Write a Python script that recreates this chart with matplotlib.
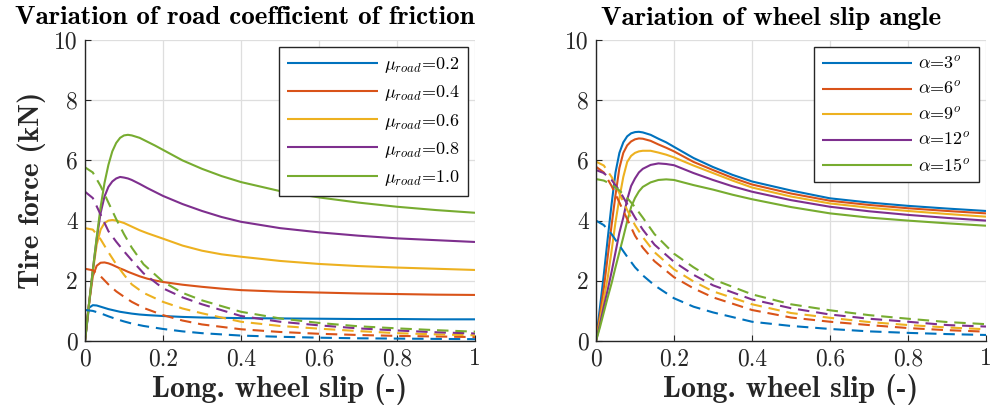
import matplotlib
matplotlib.use("Agg")
import matplotlib.pyplot as plt

plt.rcParams['font.family'] = ['cmr10', 'DejaVu Serif']
plt.rcParams['mathtext.fontset'] = 'cm'
plt.rcParams['axes.formatter.use_mathtext'] = True
plt.rcParams['axes.unicode_minus'] = False

# ---------------- data ----------------
slip_solid = [0, .01, .02, .03, .04, .05, .06, .07, .08, .09, .10, .11, .12, .14, .16, .18,
              .20, .25, .30, .35, .40, .50, .60, .70, .80, .90, 1.0]
slip_dash = [0, .02, .04, .06, .08, .10, .12, .15, .20, .25, .30, .40, .50, .60, .70, .80, .90, 1.0]

mu_labels = [r'$\mu_{road}$=0.2', r'$\mu_{road}$=0.4', r'$\mu_{road}$=0.6',
             r'$\mu_{road}$=0.8', r'$\mu_{road}$=1.0']
alpha_labels = [r'$\alpha$=3$^o$', r'$\alpha$=6$^o$', r'$\alpha$=9$^o$',
                r'$\alpha$=12$^o$', r'$\alpha$=15$^o$']

# Left panel: longitudinal force (solid)
fx_mu02 = [0, 1.10, 1.19, 1.18, 1.14, 1.10, 1.06, 1.03, 1.00, 0.97, 0.95, 0.93, 0.91, 0.88, 0.86, 0.845,
           0.83, 0.80, 0.78, 0.77, 0.76, 0.75, 0.74, 0.73, 0.73, 0.72, 0.72]
fx_mu04 = [0, 1.20, 2.15, 2.50, 2.60, 2.61, 2.58, 2.53, 2.47, 2.41, 2.36, 2.30, 2.25, 2.15, 2.07, 2.01,
           1.96, 1.87, 1.80, 1.74, 1.69, 1.64, 1.61, 1.58, 1.56, 1.54, 1.53]
fx_mu06 = [0, 1.20, 2.30, 3.20, 3.70, 3.92, 4.00, 4.02, 4.00, 3.96, 3.92, 3.86, 3.80, 3.68, 3.58, 3.49,
           3.40, 3.17, 3.00, 2.88, 2.80, 2.66, 2.56, 2.49, 2.44, 2.40, 2.36]
fx_mu08 = [0, 1.20, 2.35, 3.40, 4.25, 4.80, 5.12, 5.30, 5.40, 5.45, 5.43, 5.40, 5.35, 5.22, 5.08, 4.95,
           4.82, 4.55, 4.32, 4.12, 3.96, 3.75, 3.61, 3.50, 3.41, 3.35, 3.29]
fx_mu10 = [0, 1.20, 2.35, 3.45, 4.45, 5.25, 5.85, 6.30, 6.58, 6.75, 6.83, 6.85, 6.83, 6.75, 6.62, 6.49,
           6.35, 6.00, 5.72, 5.48, 5.28, 4.98, 4.77, 4.60, 4.46, 4.35, 4.26]

# Left panel: lateral force (dashed)
fy_mu02 = [1.03, 1.00, 0.92, 0.82, 0.73, 0.65, 0.58, 0.50, 0.40, 0.32, 0.26, 0.18, 0.14, 0.11, 0.09, 0.08, 0.07, 0.06]
fy_mu04 = [2.40, 2.35, 2.15, 1.88, 1.65, 1.47, 1.30, 1.10, 0.86, 0.68, 0.55, 0.39, 0.30, 0.24, 0.20, 0.17, 0.15, 0.13]
fy_mu06 = [3.75, 3.70, 3.38, 2.95, 2.55, 2.20, 1.88, 1.60, 1.30, 1.08, 0.92, 0.64, 0.50, 0.41, 0.33, 0.26, 0.22, 0.19]
fy_mu08 = [4.96, 4.75, 4.20, 3.65, 3.30, 2.98, 2.68, 2.25, 1.75, 1.45, 1.22, 0.83, 0.64, 0.52, 0.42, 0.35, 0.29, 0.25]
fy_mu10 = [5.77, 5.60, 5.15, 4.60, 4.05, 3.55, 3.10, 2.55, 1.97, 1.60, 1.35, 0.97, 0.75, 0.60, 0.49, 0.42, 0.36, 0.31]

# Right panel: longitudinal force (solid)
fx_a03 = [0, 1.10, 2.20, 3.40, 4.55, 5.60, 6.25, 6.60, 6.80, 6.90, 6.94, 6.95, 6.93, 6.85, 6.72, 6.60,
          6.45, 6.08, 5.78, 5.52, 5.30, 5.00, 4.74, 4.60, 4.49, 4.40, 4.32]
fx_a06 = [0, 0.85, 1.75, 2.80, 3.85, 4.85, 5.75, 6.25, 6.50, 6.63, 6.70, 6.73, 6.72, 6.65, 6.53, 6.42,
          6.30, 5.95, 5.68, 5.42, 5.20, 4.90, 4.66, 4.52, 4.41, 4.32, 4.24]
fx_a09 = [0, 0.70, 1.40, 2.10, 3.00, 3.95, 4.75, 5.45, 5.95, 6.15, 6.25, 6.30, 6.32, 6.32, 6.26, 6.19,
          6.10, 5.83, 5.58, 5.33, 5.10, 4.80, 4.57, 4.43, 4.32, 4.22, 4.13]
fx_a12 = [0, 0.55, 1.15, 1.70, 2.30, 2.95, 3.60, 4.10, 4.70, 5.15, 5.40, 5.60, 5.72, 5.85, 5.90, 5.88,
          5.84, 5.58, 5.35, 5.14, 4.96, 4.68, 4.46, 4.31, 4.19, 4.09, 4.00]
fx_a15 = [0, 0.45, 0.95, 1.45, 1.92, 2.45, 2.95, 3.45, 3.98, 4.45, 4.75, 4.97, 5.12, 5.27, 5.35, 5.37,
          5.35, 5.18, 5.03, 4.86, 4.71, 4.45, 4.24, 4.10, 4.00, 3.91, 3.83]

# Right panel: lateral force (dashed)
fy_a03 = [4.00, 3.85, 3.55, 3.17, 2.80, 2.45, 2.18, 1.85, 1.42, 1.14, 0.95, 0.64, 0.50, 0.40, 0.32, 0.27, 0.23, 0.20]
fy_a06 = [5.79, 5.60, 5.15, 4.60, 4.05, 3.50, 3.10, 2.65, 2.12, 1.75, 1.45, 1.03, 0.78, 0.64, 0.53, 0.43, 0.36, 0.31]
fy_a09 = [5.96, 5.83, 5.45, 4.90, 4.35, 3.85, 3.45, 2.95, 2.38, 1.98, 1.65, 1.22, 0.93, 0.77, 0.63, 0.53, 0.45, 0.39]
fy_a12 = [5.68, 5.58, 5.35, 5.00, 4.55, 4.10, 3.70, 3.20, 2.63, 2.20, 1.85, 1.38, 1.09, 0.88, 0.74, 0.64, 0.53, 0.48]
fy_a15 = [5.38, 5.33, 5.20, 5.00, 4.75, 4.45, 4.10, 3.55, 2.90, 2.45, 2.05, 1.55, 1.22, 1.02, 0.86, 0.74, 0.63, 0.56]

xtick_vals = [0, 0.2, 0.4, 0.6, 0.8, 1]
xtick_labels = ['0', '0.2', '0.4', '0.6', '0.8', '1']
ytick_vals = [0, 2, 4, 6, 8, 10]
ytick_labels = ['0', '2', '4', '6', '8', '10']

titles = ['Variation of road coefficient of friction', 'Variation of wheel slip angle']
xlabel = 'Long. wheel slip (-)'
ylabel = 'Tire force (kN)'

colors = ['#0072BD', '#D95319', '#EDB120', '#7E2F8E', '#77AC30']

# ---------------- figure ----------------
W, H = 991, 419
fig = plt.figure(figsize=(W / 100, H / 100), dpi=100)

def px_axes(x0, x1, y0, y1):
    return fig.add_axes([x0 / W, 1 - y1 / H, (x1 - x0) / W, (y1 - y0) / H])

axL = px_axes(85, 475, 40, 341)
axR = px_axes(596, 986, 40, 341)

panels = [
    (axL, [fx_mu02, fx_mu04, fx_mu06, fx_mu08, fx_mu10],
     [fy_mu02, fy_mu04, fy_mu06, fy_mu08, fy_mu10], mu_labels),
    (axR, [fx_a03, fx_a06, fx_a09, fx_a12, fx_a15],
     [fy_a03, fy_a06, fy_a09, fy_a12, fy_a15], alpha_labels),
]

for ax, solids, dashes, labels in panels:
    handles = []
    for c, ys, lab in zip(colors, solids, labels):
        h, = ax.plot(slip_solid, ys, color=c, lw=1.5, label=lab, solid_capstyle='butt',
                     solid_joinstyle='round')
        handles.append(h)
    for c, ys in zip(colors, dashes):
        ax.plot(slip_dash, ys, color=c, lw=1.5, dashes=(5.5, 3.3), dash_capstyle='butt')
    ax.set_xlim(0, 1)
    ax.set_ylim(0, 10)
    ax.set_xticks(xtick_vals)
    ax.set_xticklabels(xtick_labels)
    ax.set_yticks(ytick_vals)
    ax.set_yticklabels(ytick_labels)
    ax.grid(True, color='#dedede', lw=0.9)
    ax.set_axisbelow(True)
    for sp in ['top', 'right']:
        ax.spines[sp].set_visible(False)
    for sp in ['left', 'bottom']:
        ax.spines[sp].set_color('#262626')
        ax.spines[sp].set_linewidth(1.0)
    ax.tick_params(direction='in', length=4, width=0.8, color='#262626',
                   labelsize=17, labelcolor='#262626', pad=5)
    ax.set_xlabel(xlabel, fontsize=21.5, fontfamily='cmb10', color='#262626', labelpad=3)
    leg = ax.legend(handles=handles, loc='upper right', fontsize=13, frameon=True,
                    fancybox=False, edgecolor='#262626', framealpha=1,
                    handlelength=5.0, handletextpad=0.35, labelspacing=0.45,
                    borderpad=0.45, borderaxespad=0.4)
    leg.get_frame().set_linewidth(1.0)

axL.set_ylabel(ylabel, fontsize=21, fontfamily='cmb10', color='#262626', labelpad=6)

fig.text(245 / W, 1 - 18 / H, titles[0], ha='center', va='center',
         fontsize=19.5, fontfamily='cmb10', color='black')
fig.text(771 / W, 1 - 18 / H, titles[1], ha='center', va='center',
         fontsize=19.5, fontfamily='cmb10', color='black')

fig.savefig('out.png', dpi=100)
